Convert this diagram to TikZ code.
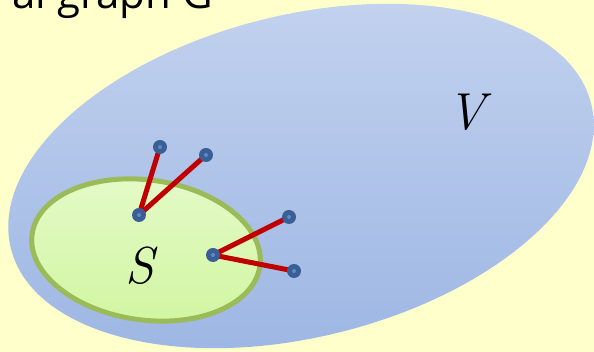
\documentclass[tikz,border=0pt]{standalone}
\usepackage{fontspec}
\setmainfont{Open Sans}
\newfontfamily\lmserif{Latin Modern Roman}
\definecolor{bgyellow}{HTML}{FFFFCC}
\definecolor{blueA}{HTML}{C4D3EF}
\definecolor{blueB}{HTML}{9BB5E3}
\definecolor{greenA}{HTML}{E4FAC8}
\definecolor{greenB}{HTML}{D2F6A2}
\definecolor{greenborder}{HTML}{9BBB59}
\definecolor{dotblue}{HTML}{3A5F96}
\definecolor{dotlight}{HTML}{5F88C0}
\definecolor{edgered}{HTML}{C00000}
\tikzset{
  vertex/.style={circle, fill=dotblue, minimum size=14pt, inner sep=0pt,
    path picture={\fill[dotlight] (path picture bounding box.center) circle (2pt);}},
  edgeline/.style={draw=edgered, line width=5pt},
  setlabel/.style={font=\lmserif\itshape\fontsize{52}{52}\selectfont, inner sep=0pt}
}
\begin{document}
\begin{tikzpicture}[x=1pt,y=1pt]
\useasboundingbox (0,0) rectangle (594,352);
\clip (0,0) rectangle (594,352);
\fill[bgyellow] (0,0) rectangle (594,352);
\node[anchor=base east, font=\fontsize{42}{42}\selectfont, inner sep=0pt] (title) at (213,343.5) {al graph G};
\shade[top color=blueA, middle color=blueB, bottom color=blueB, rotate around={14:(301,176)}] (301,176) ellipse [x radius=299, y radius=161];
\shade[top color=greenA, bottom color=greenB, rotate around={-8:(146,102)}] (146,102) ellipse [x radius=115, y radius=70];
\draw[greenborder, line width=5pt, rotate around={-8:(146,102)}] (146,102) ellipse [x radius=115, y radius=70];
\node[setlabel] (V) at (466,240) {V};
\node[setlabel] (S) at (140,86) {S};
\coordinate (p1) at (160,205);
\coordinate (p2) at (206,197);
\coordinate (p3) at (139,137);
\coordinate (p4) at (213,97);
\coordinate (p5) at (289,135);
\coordinate (p6) at (294,81);
\draw[edgeline] (p3) -- (p1);
\draw[edgeline] (p3) -- (p2);
\draw[edgeline] (p4) -- (p5);
\draw[edgeline] (p4) -- (p6);
\foreach \p in {p1,p2,p3,p4,p5,p6} \node[vertex] (n\p) at (\p) {};
\end{tikzpicture}
\end{document}
